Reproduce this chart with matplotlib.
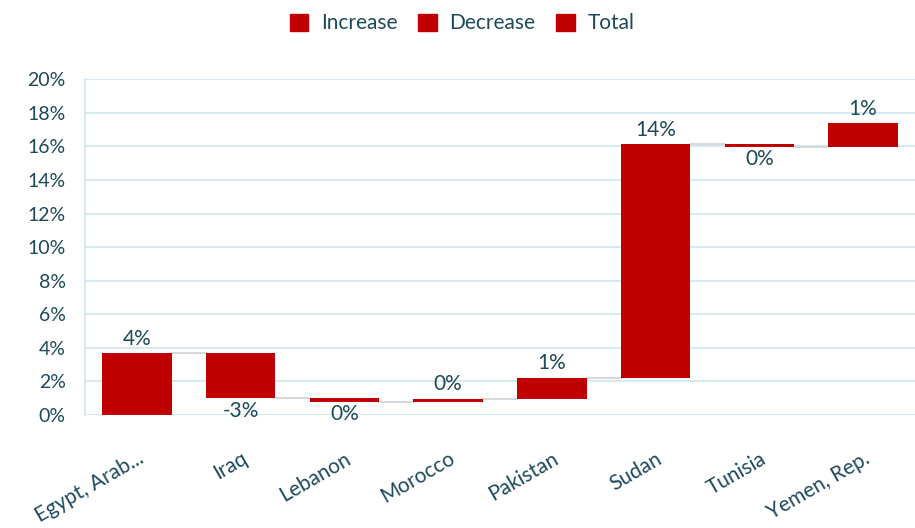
import matplotlib.pyplot as plt
from matplotlib.patches import Patch
from matplotlib.ticker import FuncFormatter

countries = ['Egypt, Arab...', 'Iraq', 'Lebanon', 'Morocco', 'Pakistan',
             'Sudan', 'Tunisia', 'Yemen, Rep.']
changes = [3.69, -2.69, -0.22, 0.20, 1.25, 13.92, -0.18, 1.43]
labels = ['4%', '-3%', '0%', '0%', '1%', '14%', '0%', '1%']

red = '#c00000'
txt = '#1d4a5a'
grid = '#cfe6f0'

plt.rcParams['font.family'] = ['Lato', 'DejaVu Sans']

fig = plt.figure(figsize=(9.15, 5.28), dpi=100)
ax = fig.add_axes([0.093, 0.214, 0.907, 0.636])

# running totals for the waterfall
starts = []
level = 0
for c in changes:
    starts.append(level)
    level += c

x = range(len(countries))
ax.bar(x, changes, bottom=starts, width=0.67, color=red, zorder=3)

# connectors
for i in range(len(countries) - 1):
    end = starts[i] + changes[i]
    ax.plot([i + 0.335, i + 1 - 0.335], [end, end], color='#d9d9d9', lw=1.5, zorder=2)

# data labels
for i, c in enumerate(changes):
    if c >= 0:
        ax.text(i, starts[i] + c + 0.25, labels[i], ha='center', va='bottom',
                fontsize=15, color=txt)
    else:
        ax.text(i, starts[i] + c - 0.15, labels[i], ha='center', va='top',
                fontsize=15, color=txt)

ax.set_xlim(-0.5, len(countries) - 0.5)
ax.set_ylim(0, 20)
ax.set_yticks(range(0, 21, 2))
ax.yaxis.set_major_formatter(FuncFormatter(lambda v, p: f'{v:.0f}%'))
ax.grid(axis='y', color=grid, lw=1.2, zorder=0)
ax.set_xticks(list(x))
ax.set_xticklabels(countries, rotation=30, ha='right', rotation_mode='anchor')
ax.tick_params(axis='both', length=0, labelsize=14, labelcolor=txt)
ax.tick_params(axis='x', pad=24, labelsize=15)
ax.tick_params(axis='y', pad=14)
for s in ['top', 'right', 'bottom']:
    ax.spines[s].set_visible(False)
ax.spines['left'].set_color(grid)
ax.spines['left'].set_linewidth(1.2)

handles = [Patch(color=red, label=l) for l in ['Increase', 'Decrease', 'Total']]
fig.legend(handles=handles, loc='upper center', bbox_to_anchor=(0.505, 1.01), ncol=3,
           frameon=False, fontsize=15, labelcolor=txt, handlelength=0.9,
           handleheight=0.9, columnspacing=1.0, handletextpad=0.6)

fig.savefig('out.png', dpi=100)
